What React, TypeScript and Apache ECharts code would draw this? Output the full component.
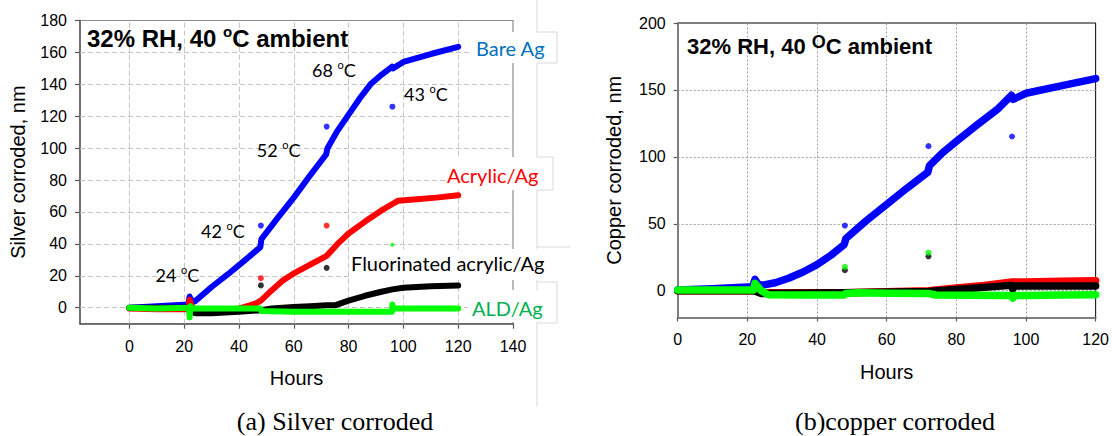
import React, { useEffect, useRef } from 'react';
import * as echarts from 'echarts';

// ---------- axis ranges / tick steps ----------
const silverXRange = [-18, 140];
const silverYRange = [-10, 180];
const silverStep = 20;
const copperXRange = [0, 120];
const copperYRange = [-20, 200];
const copperXStep = 20;
const copperYStep = 50;
const silverXGrid = [0, 20, 40, 60, 80, 100, 120];
const silverYGrid = [0, 20, 40, 60, 80, 100, 120, 140, 160];
const copperXGrid = [20, 40, 60, 80, 100];
const copperYGrid = [0, 50, 100, 150];

// ---------- (a) silver corroded, nm ----------
const agBareX = [0, 10, 21.5, 22, 22.5, 24, 30, 36, 42, 47.8, 48.2, 54, 60, 66, 71.8, 72.3, 76, 80, 84, 88, 92, 95.8, 96.2, 100, 110, 120];
const agBareY = [0, 1, 2, 7, 5, 4, 13, 21, 29.5, 38, 43, 56, 69, 83, 96, 100, 111, 121, 131, 140, 146, 151, 150, 154, 159, 163.5];
const agAcrylicX = [0, 10, 21.5, 22, 22.5, 24, 30, 40, 46, 48, 52, 56, 60, 66, 72, 76, 80, 86, 92, 96, 98, 105, 112, 120];
const agAcrylicY = [-0.5, -1, -1, 5, 2, -3, -2.5, -0.5, 2.5, 4.5, 11, 17, 21.5, 27, 32.5, 40, 46.5, 54, 61, 65, 67, 68, 69, 70.5];
const agFluorX = [0, 10, 22, 23, 24, 30, 40, 48, 52, 60, 66, 72, 75, 80, 86, 92, 96, 100, 110, 120];
const agFluorY = [0, 0, 0, -1, -3.5, -3.5, -2.5, -1.5, -0.5, 0.5, 1, 1.5, 1.5, 4.5, 7.5, 10, 11.5, 12.5, 13.5, 14];
const agAldX = [0, 10, 21.8, 22, 22.3, 22.6, 24, 36, 47.8, 48.2, 60, 72, 84, 95.8, 96, 96.3, 100, 110, 120];
const agAldY = [0, -0.5, 0, -6, 1, 0, -0.5, -0.5, -0.5, -2, -2.5, -2.5, -2.5, -2.5, 2, -0.5, -0.5, -0.5, -0.5];

const agBareDotX = [48, 72, 96];
const agBareDotY = [51.5, 113.5, 126];
const agAcrylicDotX = [48, 72];
const agAcrylicDotY = [18.5, 51.5];
const agFluorDotX = [48, 72];
const agFluorDotY = [14, 25];
const agAldDotX = [96];
const agAldDotY = [39.5];

// ---------- (b) copper corroded, nm ----------
const cuBareX = [0, 10, 21.5, 22.2, 23, 24, 28, 32, 36, 40, 44, 47.8, 48.3, 54, 60, 66, 71.8, 72.3, 76, 80, 86, 92, 95.8, 96.3, 100, 110, 120];
const cuBareY = [0.5, 1.5, 3, 8.5, 5, 4, 6, 9.5, 14, 19.5, 26.5, 34.5, 39, 52, 64.5, 77, 88.5, 93.5, 103, 111.5, 124, 136, 146, 143, 147.5, 153, 158.5];
const cuAcrylicX = [0, 22, 24, 48, 72, 80, 88, 96, 100, 110, 120];
const cuAcrylicY = [0, 0, -1.5, -1.5, 0, 2, 4, 6.5, 6.5, 7, 7.5];
const cuFluorX = [0, 22, 24, 48, 72, 80, 88, 95.8, 96.2, 96.6, 100, 110, 120];
const cuFluorY = [0, 0, -2, -1.5, -0.5, 1, 2.5, 4, 1, 3.5, 3.5, 3.5, 3.5];
const cuAldX = [0, 10, 21.8, 22.2, 23, 24, 26, 36, 47.8, 48.2, 52, 60, 72, 74, 84, 95.8, 96.2, 96.6, 100, 110, 120];
const cuAldY = [0.5, 0.5, 0.5, 5.5, 3, 0, -3, -3.2, -3.2, -2, -1.5, -1.8, -2, -3.2, -3.3, -3.5, -5.5, -3.5, -3.5, -3.2, -3];

const cuBareDotX = [48, 72, 96];
const cuBareDotY = [48.7, 108, 115.2];
const cuFluorDotX = [48, 72];
const cuFluorDotY = [15.3, 25.7];
const cuAldDotX = [48, 72];
const cuAldDotY = [17.8, 28.4];

// ---------- texts ----------
const titleText = ['32% RH, 40 ', 'o', 'C ambient'];
const tempLabels = ['24', '42', '52', '68', '43'];
const seriesLabels = ['Bare Ag', 'Acrylic/Ag', 'Fluorinated acrylic/Ag', 'ALD/Ag'];
const captions = ['(a) Silver corroded', '(b)copper corroded'];

const BLUE = '#0000ff';
const RED = '#ff0000';
const BLACK = '#000000';
const GREEN = '#00ff00';
const SANS = '"Liberation Sans", Arial, sans-serif';
const CAL = 'Lato, "Noto Sans", sans-serif';
const SERIF = '"Liberation Serif", serif';

const zip = (xs: number[], ys: number[]) => xs.map((x, i) => [x, ys[i]]);

const line = (xs: number[], ys: number[], color: string, w: number) => ({
  type: 'line',
  data: zip(xs, ys),
  showSymbol: false,
  symbol: 'none',
  z: 3,
  lineStyle: { color, width: w, cap: 'round', join: 'round' },
  itemStyle: { color },
});

const gridLines = (xs: number[], ys: number[], dash: number[], color: string) => ({
  silent: true,
  symbol: ['none', 'none'],
  label: { show: false },
  z: 1,
  animation: false,
  lineStyle: { type: dash, color, width: 1 },
  emphasis: { disabled: true },
  data: [...xs.map((v) => ({ xAxis: v })), ...ys.map((v) => ({ yAxis: v }))],
});

const dots = (xs: number[], ys: number[], color: string, size: number) => ({
  type: 'scatter',
  data: zip(xs, ys),
  symbolSize: size,
  z: 4,
  itemStyle: { color },
});

const tempText = (t: string, x: number, y: number) => ({
  type: 'text',
  z: 60,
  style: {
    text: `{a|${t} }{s|o}{a|C}`,
    x,
    y,
    align: 'center',
    verticalAlign: 'middle',
    rich: {
      a: { fontSize: 18, fontFamily: CAL, fill: '#000', lineHeight: 22 },
      s: { fontSize: 11, fontFamily: CAL, fill: '#000', lineHeight: 11, verticalAlign: 'top' },
    },
  },
});

const labelText = (t: string, x: number, y: number, color: string) => ({
  type: 'text',
  z: 60,
  style: { text: t, x, y, align: 'left', verticalAlign: 'middle', fontSize: 20, fontFamily: CAL, fill: color },
});

const whiteRect = (x: number, y: number, w: number, h: number) => ({
  type: 'rect',
  z: 55,
  shape: { x, y, width: w, height: h },
  style: { fill: '#ffffff' },
});

const edge = (pts: number[][]) => ({
  type: 'polyline',
  z: 56,
  shape: { points: pts },
  style: { stroke: '#d9d9d9', lineWidth: 1, fill: 'none' },
});

const labelStyle = () => ({ fontSize: 16, color: '#000', fontFamily: SANS });
const nameStyle = () => ({ fontSize: 20, color: '#000', fontFamily: SANS });

function silverOption(): any {
  const bare: any = line(agBareX, agBareY, BLUE, 6);
  bare.markLine = gridLines(silverXGrid, silverYGrid, [5, 3], '#c4c4c4');
  return {
    animation: false,
    grid: { left: 79, top: 20.5, width: 434, height: 303.2, show: true, borderColor: '#8c8c8c', borderWidth: 1.2 },
    xAxis: {
      type: 'value', min: silverXRange[0], max: silverXRange[1],
      minInterval: silverStep, maxInterval: silverStep,
      axisLine: { show: true, onZero: false, lineStyle: { color: '#595959', width: 1.5 } },
      axisTick: { show: true, length: 5, lineStyle: { color: '#595959', width: 1.2 } },
      axisLabel: { ...labelStyle(), margin: 15, showMinLabel: false },
      splitLine: { show: false },
      name: 'Hours', nameLocation: 'middle', nameGap: 44, nameTextStyle: nameStyle(),
    },
    yAxis: {
      type: 'value', min: silverYRange[0], max: silverYRange[1],
      minInterval: silverStep, maxInterval: silverStep,
      axisLine: { show: true, onZero: false, lineStyle: { color: '#595959', width: 1.5 } },
      axisTick: { show: true, length: 5, lineStyle: { color: '#595959', width: 1.2 } },
      axisLabel: { ...labelStyle(), margin: 13, showMinLabel: false },
      splitLine: { show: false },
      name: 'Silver corroded, nm', nameLocation: 'middle', nameGap: 52, nameTextStyle: nameStyle(),
    },
    series: [
      bare,
      line(agAcrylicX, agAcrylicY, RED, 6),
      line(agFluorX, agFluorY, BLACK, 6),
      line(agAldX, agAldY, GREEN, 6),
      dots(agBareDotX, agBareDotY, BLUE, 6),
      dots(agAcrylicDotX, agAcrylicDotY, RED, 6),
      dots(agFluorDotX, agFluorDotY, BLACK, 6),
      dots(agAldDotX, agAldDotY, GREEN, 4),
    ],
    graphic: [
      { type: 'line', z: 50, shape: { x1: 537, y1: 0, x2: 537, y2: 407 }, style: { stroke: '#d9d9d9', lineWidth: 1 } },
      whiteRect(470, 32, 87, 31),
      whiteRect(445, 157, 108, 33),
      whiteRect(350, 249, 220, 31),
      whiteRect(468, 290, 89, 32),
      edge([[537, 32], [557, 32], [557, 63], [537, 63]]),
      edge([[537, 157], [553, 157], [553, 190], [537, 190]]),
      edge([[537, 247], [570, 247]]),
      edge([[537, 282], [557, 282], [557, 323], [537, 323]]),
      labelText(seriesLabels[0], 476, 47.5, '#0070c0'),
      labelText(seriesLabels[1], 447, 175, RED),
      labelText(seriesLabels[2], 351, 263, BLACK),
      labelText(seriesLabels[3], 472, 308, '#00b050'),
      tempText(tempLabels[0], 177.5, 275),
      tempText(tempLabels[1], 223, 231),
      tempText(tempLabels[2], 278.7, 150),
      tempText(tempLabels[3], 334, 70),
      tempText(tempLabels[4], 426, 94),
      {
        type: 'text', z: 60,
        style: {
          text: `{a|${titleText[0]}}{s|${titleText[1]}}{a|${titleText[2]}}`,
          x: 87, y: 38, align: 'left', verticalAlign: 'middle',
          rich: {
            a: { fontSize: 24, fontWeight: 'bold', fontFamily: SANS, fill: '#000', lineHeight: 28 },
            s: { fontSize: 15, fontWeight: 'bold', fontFamily: SANS, fill: '#000', lineHeight: 15, verticalAlign: 'top' },
          },
        },
      },
      { type: 'text', z: 60, style: { text: captions[0], x: 335, y: 421, align: 'center', verticalAlign: 'middle', fontSize: 26, fontFamily: SERIF, fill: '#000' } },
    ],
  };
}

function copperOption(): any {
  const bare: any = line(cuBareX, cuBareY, BLUE, 7.5);
  bare.markLine = gridLines(copperXGrid, copperYGrid, [2, 2], '#a0a0a0');
  return {
    animation: false,
    grid: { left: 97.7, top: 23, width: 422.8, height: 294.5, show: true, borderColor: '#000', borderWidth: 1 },
    xAxis: {
      type: 'value', min: copperXRange[0], max: copperXRange[1], interval: copperXStep,
      axisLine: { show: true, onZero: false, lineStyle: { color: '#7f7f7f', width: 2 } },
      axisTick: { show: true, length: 4, lineStyle: { color: '#595959', width: 1.2 } },
      axisLabel: { ...labelStyle(), margin: 14 },
      splitLine: { show: false },
      name: 'Hours', nameLocation: 'middle', nameGap: 44, nameTextStyle: nameStyle(),
    },
    yAxis: {
      type: 'value', min: copperYRange[0], max: copperYRange[1],
      minInterval: copperYStep, maxInterval: copperYStep,
      axisLine: { show: true, onZero: false, lineStyle: { color: '#7f7f7f', width: 2 } },
      axisTick: { show: true, length: 4, lineStyle: { color: '#595959', width: 1.2 } },
      axisLabel: { ...labelStyle(), margin: 12, showMinLabel: false },
      splitLine: { show: false },
      name: 'Copper corroded, nm', nameLocation: 'middle', nameGap: 54, nameTextStyle: nameStyle(),
    },
    series: [
      bare,
      line(cuAcrylicX, cuAcrylicY, RED, 7.5),
      line(cuFluorX, cuFluorY, BLACK, 7.5),
      line(cuAldX, cuAldY, GREEN, 7.5),
      dots(cuBareDotX, cuBareDotY, BLUE, 6),
      dots(cuFluorDotX, cuFluorDotY, BLACK, 6),
      dots(cuAldDotX, cuAldDotY, GREEN, 6),
    ],
    graphic: [
      {
        type: 'text', z: 60,
        style: {
          text: `{a|${titleText[0]}}{s|O}{a|${titleText[2]}}`,
          x: 107, y: 46, align: 'left', verticalAlign: 'middle',
          rich: {
            a: { fontSize: 22, fontWeight: 'bold', fontFamily: SANS, fill: '#000', lineHeight: 26 },
            s: { fontSize: 18, fontWeight: 'bold', fontFamily: SANS, fill: '#000', lineHeight: 16, verticalAlign: 'top' },
          },
        },
      },
      { type: 'text', z: 60, style: { text: captions[1], x: 315, y: 421, align: 'center', verticalAlign: 'middle', fontSize: 26, fontFamily: SERIF, fill: '#000' } },
    ],
  };
}

function Panel({ left, width, build }: { left: number; width: number; build: () => any }) {
  const ref = useRef<HTMLDivElement>(null);
  useEffect(() => {
    if (!ref.current) return;
    const chart = echarts.init(ref.current, undefined, { renderer: 'svg' });
    chart.setOption(build());
    return () => chart.dispose();
  }, [build]);
  return <div ref={ref} style={{ position: 'absolute', left, top: 0, width, height: 436 }} />;
}

export default function App() {
  return (
    <div style={{ position: 'fixed', left: 0, top: 0, width: 1112, height: 436, background: '#fff' }}>
      <Panel left={0} width={580} build={silverOption} />
      <Panel left={580} width={532} build={copperOption} />
    </div>
  );
}
